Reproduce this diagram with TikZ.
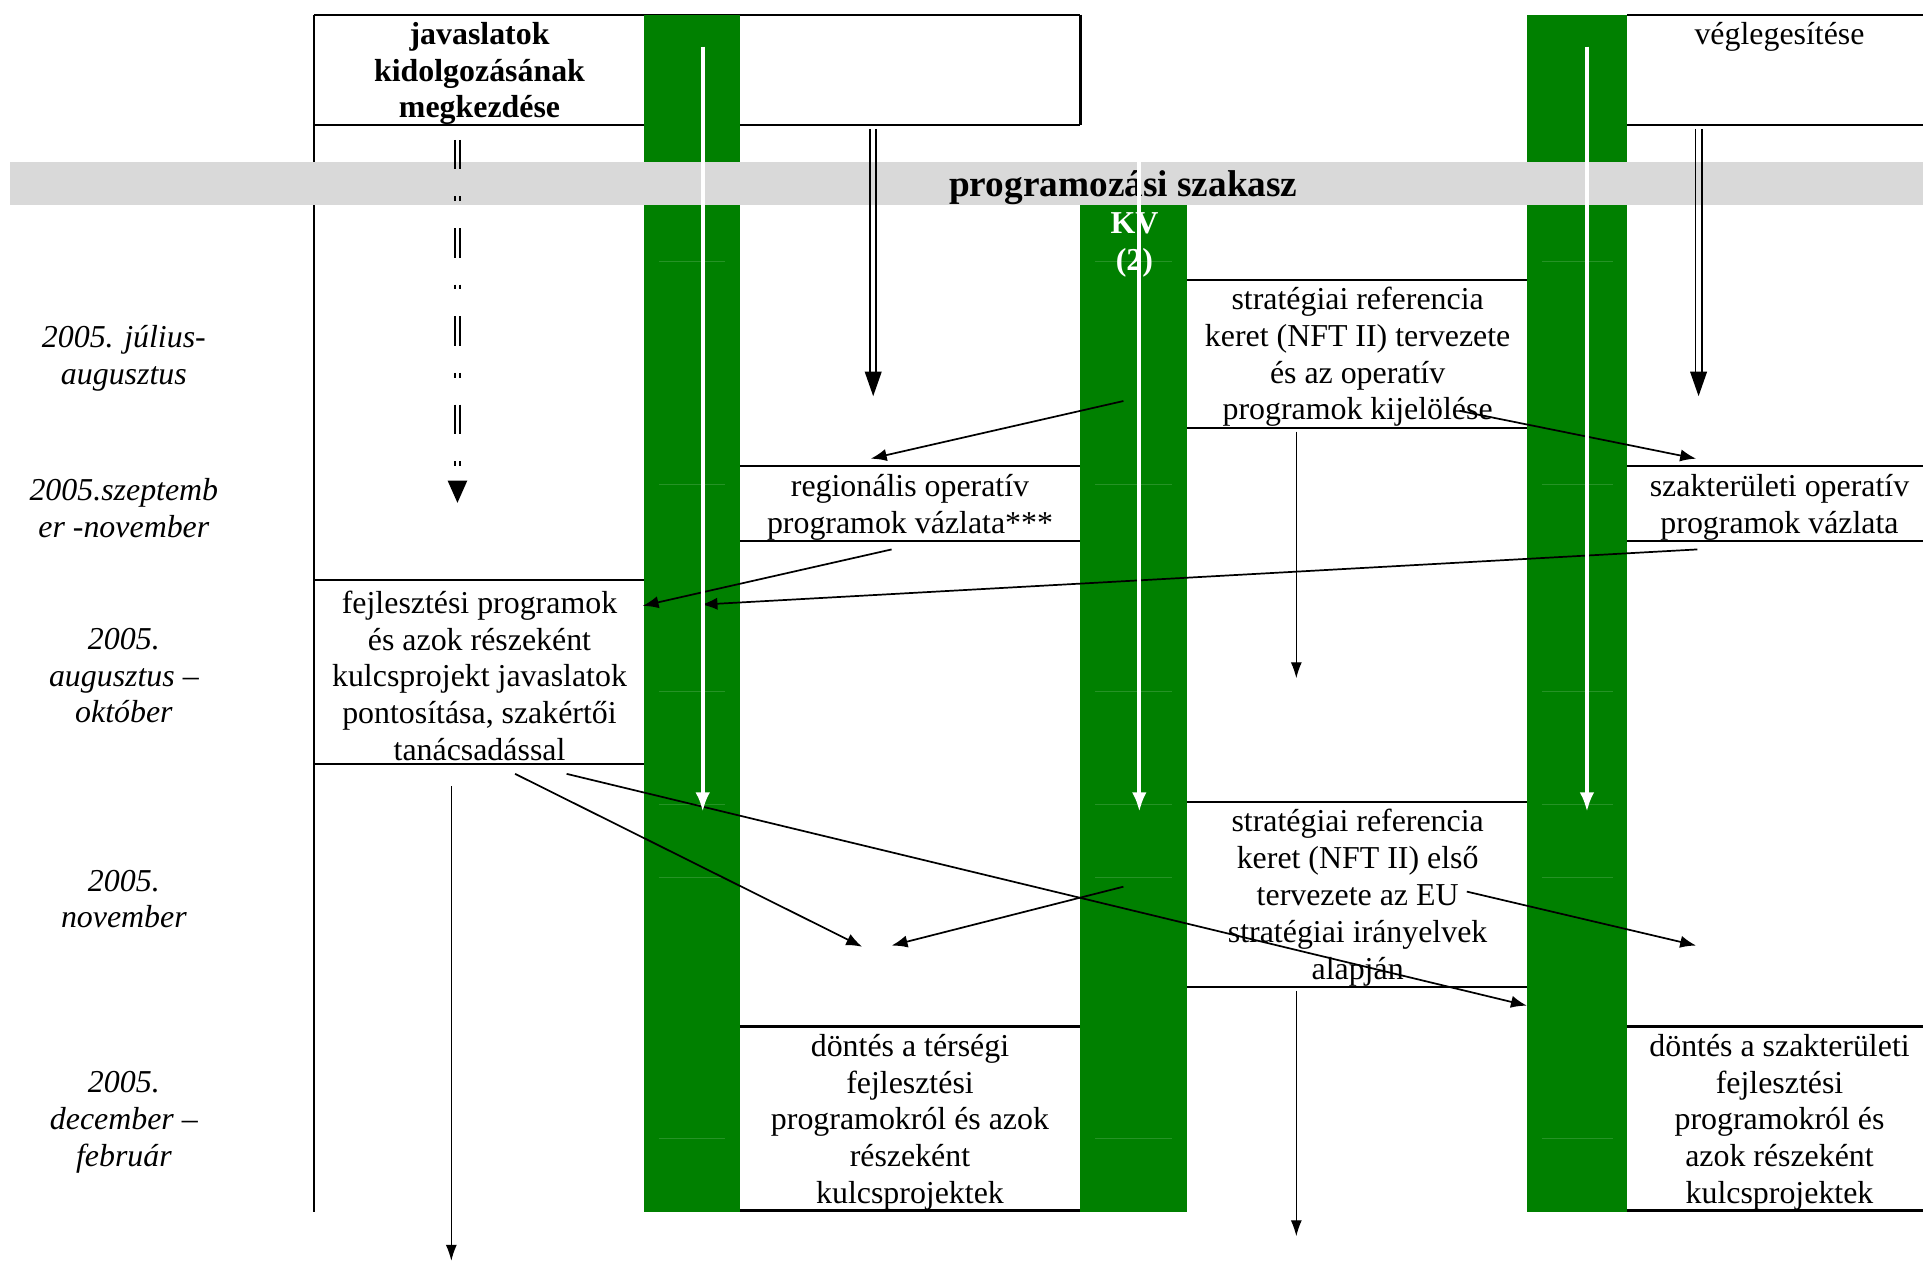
\documentclass[tikz,border=0pt]{standalone}
\usepackage{fontspec}
\setmainfont{Liberation Serif}
\usetikzlibrary{arrows.meta}
\definecolor{wgreen}{RGB}{0,128,0}
\definecolor{bandgray}{RGB}{217,217,217}
\begin{document}
\begin{tikzpicture}[x=0.5pt,y=-0.5pt,
  txt/.style={font=\fontsize{13}{15}\selectfont, align=center, inner sep=0pt},
  datetxt/.style={font=\fontsize{13}{15}\selectfont\itshape, align=center, inner sep=0pt},
  boldtxt/.style={font=\fontsize{13}{15}\selectfont\bfseries, align=center, inner sep=0pt},
  titletxt/.style={font=\fontsize{15.2}{17}\selectfont\bfseries, align=center, inner sep=0pt},
  kvtxt/.style={font=\fontsize{13}{15}\selectfont\bfseries, align=center, inner sep=0pt, text=white},
  rule/.style={line width=0.9pt},
  arr/.style={line width=0.7pt,-{Latex[length=6.5pt,width=5pt]}},
  thinarr/.style={line width=0.45pt,-{Latex[length=6.5pt,width=4.5pt]}},
  warr/.style={draw=white,line width=1.6pt,-{Latex[length=8pt,width=6pt]}},
  dbl/.style={line width=0.7pt},
  faint/.style={draw=wgreen!85!white, line width=0.3pt}
]
\fill[white] (0,0) rectangle (1568,1031);
\useasboundingbox (0,0) rectangle (1568,1031);

% table rules
\draw[rule] (256,12) -- (881,12) (256,102) -- (881,102) (881,12) -- (881,102);
\draw[rule] (256,12) -- (256,988);
\draw[rule] (1327,12) -- (1568,12) (1327,102) -- (1568,102);
\draw[rule] (256,473) -- (525,473) (256,623) -- (525,623);
\draw[rule] (603,380) -- (881,380) (603,441) -- (881,441);
\draw[rule] (1327,380) -- (1568,380) (1327,441) -- (1568,441);
\draw[rule] (968,228) -- (1245,228) (968,349) -- (1245,349);
\draw[rule] (968,654) -- (1245,654) (968,805) -- (1245,805);
\draw[rule] (603,837) -- (881,837) (603,987) -- (881,987);
\draw[rule] (1327,837) -- (1568,837) (1327,987) -- (1568,987);

% green columns
\fill[wgreen] (525,12) rectangle (603,988);
\fill[wgreen] (881,132) rectangle (968,988);
\fill[wgreen] (1245,12) rectangle (1327,988);
\foreach \yy in {213,395,564,656,715,928}{
  \draw[faint] (537,\yy) -- (591,\yy);
  \draw[faint] (893,\yy) -- (956,\yy);
  \draw[faint] (1257,\yy) -- (1315,\yy);
}

% band
\fill[bandgray] (8,132) rectangle (1568,167);
\node[titletxt] (title) at (916,153) {programozási szakasz};

% date labels
\node[datetxt] (d1) at (101,292) {2005. július-\\augusztus};
\node[datetxt] (d2) at (101,414) {2005.szeptemb\\er -november};
\node[datetxt] (d3) at (101,551) {2005.\\augusztus –\\október};
\node[datetxt] (d4) at (101,733) {2005.\\november};
\node[datetxt] (d5) at (101,915) {2005.\\december –\\február};

% texts
\node[boldtxt] (hdrA) at (391,60) {javaslatok\\kidolgozásának\\megkezdése};
\node[txt] (hdrD) at (1451,30) {véglegesítése};
\node[txt] (fejl) at (391,551) {fejlesztési programok\\és azok részeként\\kulcsprojekt javaslatok\\pontosítása, szakértői\\tanácsadással};
\node[txt] (reg) at (742,414) {regionális operatív\\programok vázlata***};
\node[txt] (szak) at (1451,414) {szakterületi operatív\\programok vázlata};
\node[txt] (strat1) at (1107,291) {stratégiai referencia\\keret (NFT II) tervezete\\és az operatív\\programok kijelölése};
\node[txt] (strat2) at (1107,732) {stratégiai referencia\\keret (NFT II) első\\tervezete az EU\\stratégiai irányelvek\\alapján};
\node[txt] (dontT) at (742,915) {döntés a térségi\\fejlesztési\\programokról és azok\\részeként\\kulcsprojektek};
\node[txt] (dontS) at (1451,915) {döntés a szakterületi\\fejlesztési\\programokról és\\azok részeként\\kulcsprojektek};
\node[kvtxt] (kv) at (925,200) {KV\\(2)};

% double arrows
\draw[dbl] (709.5,105) -- (709.5,306) (714.5,105) -- (714.5,306);
\fill (705,303) -- (719,303) -- (712,323) -- cycle;
\draw[dbl] (1382.5,105) -- (1382.5,306) (1387.5,105) -- (1387.5,306);
\fill (1378,303) -- (1392,303) -- (1385,323) -- cycle;
% dashed double arrow
\draw[dbl, dash pattern=on 12pt off 11pt on 2pt off 11pt] (371,114) -- (371,390) (375,114) -- (375,390);
\fill (365,392) -- (381,392) -- (373,410) -- cycle;

% coordinates
\coordinate (a1s) at (916,327);  \coordinate (a1e) at (710,374);
\coordinate (a2s) at (1190,335); \coordinate (a2e) at (1383,374);
\coordinate (a3s) at (727,448);  \coordinate (a3e) at (524,494);
\coordinate (a4s) at (1384,448); \coordinate (a4e) at (572,493);
\coordinate (a5s) at (420,631);  \coordinate (a5e) at (703,772);
\coordinate (a6s) at (462,631);  \coordinate (a6e) at (1245,820);
\coordinate (a7s) at (916,723);  \coordinate (a7e) at (727,771);
\coordinate (a8s) at (1196,727); \coordinate (a8e) at (1383,771);
\coordinate (v1s) at (1057,352); \coordinate (v1e) at (1057,553);
\coordinate (v2s) at (1057,808); \coordinate (v2e) at (1057,1008);
\coordinate (v3s) at (368,641);  \coordinate (v3e) at (368,1028);

\foreach \a in {a1,a2,a3,a4,a5,a6,a7,a8}{\draw[arr] (\a s) -- (\a e);}
\foreach \a in {v1,v2,v3}{\draw[thinarr] (\a s) -- (\a e);}

% white arrows
\coordinate (w1s) at (573,38);  \coordinate (w1e) at (573,662);
\coordinate (w2s) at (929,130); \coordinate (w2e) at (929,662);
\coordinate (w3s) at (1294,38); \coordinate (w3e) at (1294,662);
\foreach \a in {w1,w2,w3}{\draw[warr] (\a s) -- (\a e);}
\end{tikzpicture}
\end{document}
